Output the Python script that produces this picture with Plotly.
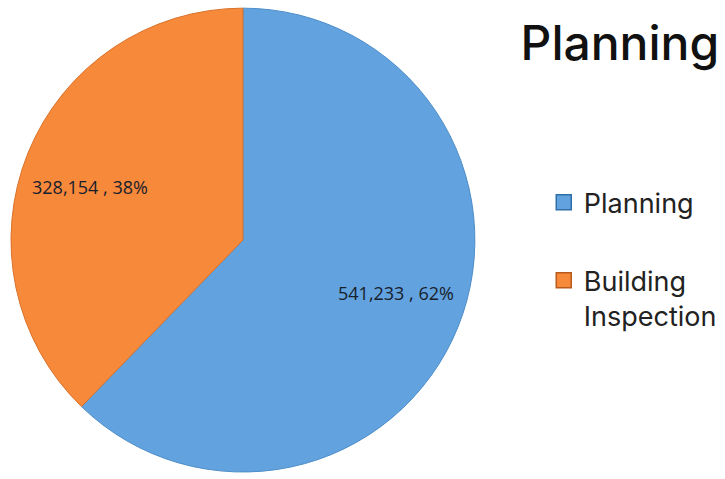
import math
import plotly.graph_objects as go

# Budget split by department
categories = ["Planning", "Building Inspection"]
legend_names = ["Planning", "Building<br>Inspection"]
values = [541233, 328154]
colors = ["#62A3DF", "#F7893B"]
edge_colors = ["#4D8DC8", "#D9712A"]
legend_edges = ["#2F6EA8", "#B85A1C"]

pie_domain_x = [0.0152, 0.655]
pie_domain_y = [0.0146, 0.983]

fig = go.Figure()

fig.add_trace(
    go.Pie(
        labels=categories,
        values=values,
        sort=False,
        direction="clockwise",
        rotation=0,
        marker=dict(colors=colors, line=dict(color=edge_colors, width=1)),
        textinfo="none",
        domain=dict(x=pie_domain_x, y=pie_domain_y),
        hoverinfo="label+value+percent",
        showlegend=False,
    )
)

# Data labels placed along each slice's mid-angle
total = sum(values)
W, H = 725, 479
cx = (pie_domain_x[0] + pie_domain_x[1]) / 2 * W
cy = (pie_domain_y[0] + pie_domain_y[1]) / 2 * H
radius = min((pie_domain_x[1] - pie_domain_x[0]) * W, (pie_domain_y[1] - pie_domain_y[0]) * H) / 2
cum = 0.0
for v in values:
    frac = v / total
    mid = (cum + frac / 2) * 2 * math.pi  # clockwise from 12 o'clock
    cum += frac
    px = cx + 0.71 * radius * math.sin(mid)
    py = cy + 0.61 * radius * math.cos(mid)
    fig.add_annotation(
        x=px / W,
        y=py / H,
        xref="paper",
        yref="paper",
        xanchor="center",
        yanchor="middle",
        text=f"{v:,} , {round(frac * 100)}%",
        showarrow=False,
        font=dict(family="Open Sans", size=18, color="#18202B"),
    )

# Legend entries
for name, col, edge in zip(legend_names, colors, legend_edges):
    fig.add_trace(
        go.Scatter(
            x=[None],
            y=[None],
            mode="markers",
            name=name,
            legendgroup=name,
            marker=dict(symbol="square", size=15, color=col, line=dict(color=edge, width=1.5)),
        )
    )

fig.update_xaxes(visible=False)
fig.update_yaxes(visible=False)

fig.update_layout(
    width=W,
    height=H,
    margin=dict(l=0, r=0, t=0, b=0),
    paper_bgcolor="white",
    plot_bgcolor="white",
    title=dict(
        text="Planning",
        x=0.992,
        xanchor="right",
        y=0.91,
        yanchor="middle",
        font=dict(family="Inter", size=48, color="#111111", weight=500),
    ),
    legend=dict(
        x=0.75,
        xanchor="left",
        y=0.628,
        yanchor="top",
        valign="top",
        font=dict(family="Inter", size=27, color="#222222"),
        itemwidth=30,
        tracegroupgap=40,
        bgcolor="rgba(0,0,0,0)",
    ),
)

fig.write_html("out.html")
